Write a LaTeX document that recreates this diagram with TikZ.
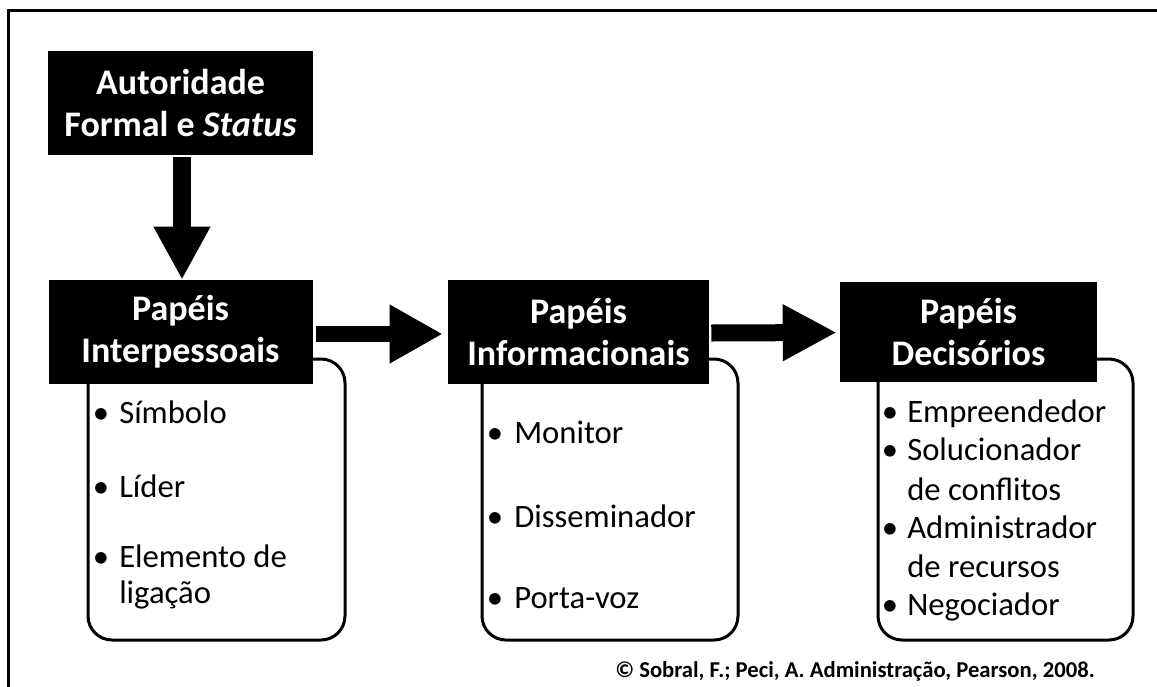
\documentclass[tikz,border=0pt]{standalone}
\usepackage{fontspec}
\setmainfont{Carlito}
\usetikzlibrary{arrows.meta}
\begin{document}
\begin{tikzpicture}[x=0.75pt,y=-0.75pt]
\tikzset{
  hdr/.style={fill=black, text=white, font=\bfseries\fontsize{27}{31.5}\selectfont, align=center, inner sep=0pt},
  lst/.style={draw=black, line width=2.25pt, rounded corners=18pt, fill=white, inner sep=0pt},
  itm/.style={font=\fontsize{24.5}{28.5}\selectfont, inner sep=0pt, anchor=base west},
  bul/.style={font=\fontsize{24.5}{28.5}\selectfont, inner sep=0pt, anchor=base},
  frame/.style={line width=2.6pt},
}
\useasboundingbox (0,0) rectangle (1157,686);
% frame
\coordinate (fl) at (8.3,700);
\coordinate (fc) at (8.3,10.5);
\coordinate (fr) at (1170,10.5);
\draw[frame] (fl) -- (fc) -- (fr);

% list boxes (behind headers)
\node[lst, minimum width=192.75pt, minimum height=210.75pt] (l1) at (216.5,499.5) {};
\node[lst, minimum width=192pt, minimum height=210.75pt] (l2) at (610,499.5) {};
\node[lst, minimum width=191.25pt, minimum height=210.75pt] (l3) at (1005.5,499.5) {};

% headers
\node[hdr, minimum width=198.75pt, minimum height=78pt] (a0) at (180.5,103) {Autoridade\\Formal e \textit{Status}};
\node[hdr, minimum width=198pt, minimum height=78pt] (b1) at (180.5,332) {Papéis\\Interpessoais};
\node[hdr, minimum width=195.75pt, minimum height=78pt] (b2) at (578.5,332) {Papéis\\Informacionais};
\node[hdr, minimum width=192.75pt, minimum height=75pt] (b3) at (968.5,331.5) {Papéis\\Decisórios};

% block arrows
\draw[line width=13.5pt, -{Triangle[length=39.75pt,width=39.75pt]}]
  ([xshift=1.1pt,yshift=-1.5pt]a0.south) -- ([xshift=1.1pt]b1.north);
\draw[line width=12pt, -{Triangle[length=39.75pt,width=41.25pt]}]
  ([xshift=2.25pt,yshift=-1.5pt]b1.east) -- ([xshift=-3.75pt,yshift=-1.5pt]b2.west);
\draw[line width=12.75pt, -{Triangle[length=40.5pt,width=39.75pt]}]
  ([xshift=1.5pt,yshift=-0.75pt]b2.east) -- ([xshift=-2.25pt,yshift=-0.75pt]b3.west);

% list 1
\node[bul] (p1) at (101,423) {\textbullet};
\node[itm] (t1) at (119,423) {Símbolo};
\node[bul] (p2) at (101,497) {\textbullet};
\node[itm] (t2) at (119,497) {Líder};
\node[bul] (p3) at (101,567) {\textbullet};
\node[itm] (t3) at (119,567) {Elemento de};
\node[itm] (t3b) at (119,603) {ligação};

% list 2
\node[bul] (q1) at (495,443) {\textbullet};
\node[itm] (u1) at (514,443) {Monitor};
\node[bul] (q2) at (495,527) {\textbullet};
\node[itm] (u2) at (514,527) {Disseminador};
\node[bul] (q3) at (495,608) {\textbullet};
\node[itm] (u3) at (514,608) {Porta-voz};

% list 3
\node[bul] (r1) at (890,422) {\textbullet};
\node[itm] (v1) at (907,422) {Empreendedor};
\node[bul] (r2) at (890,460) {\textbullet};
\node[itm] (v2) at (907,460) {Solucionador};
\node[itm] (v2b) at (907,500) {de conflitos};
\node[bul] (r3) at (890,538) {\textbullet};
\node[itm] (v3) at (907,538) {Administrador};
\node[itm] (v3b) at (907,577) {de recursos};
\node[bul] (r4) at (890,615) {\textbullet};
\node[itm] (v4) at (907,615) {Negociador};

% source
\node[itm, font=\bfseries\fontsize{17}{20}\selectfont] (cp) at (615,677) {© Sobral, F.; Peci, A. Administração, Pearson, 2008.};
\end{tikzpicture}
\end{document}
